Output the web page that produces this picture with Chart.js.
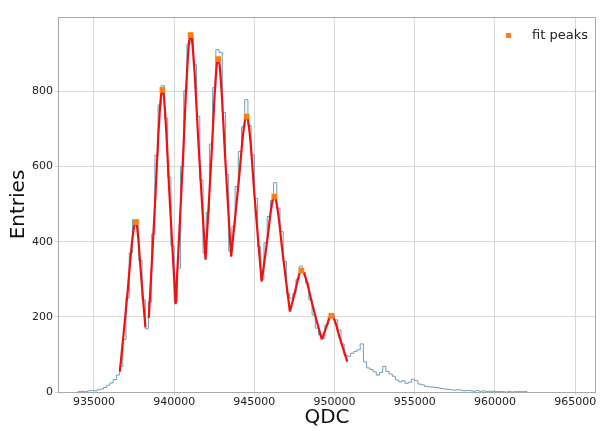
<!DOCTYPE html>
<html>
<head>
<meta charset="utf-8">
<script src="https://cdn.jsdelivr.net/npm/chart.js@4.4.1/dist/chart.umd.min.js"></script>
<style>
  html, body { margin: 0; padding: 0; background: #fff; }
  canvas { display: block; }
</style>
</head>
<body>
<canvas id="chart" width="600" height="431"></canvas>
<script>
// histogram: bins of 200 starting at 934000
const binStart = 934000;
const binWidth = 200;
const counts = [
  1, 2, 1, 3, 4, 3, 6, 8, 12, 18,
  24, 33, 45, 68, 140, 250, 370, 458, 458, 350,
  245, 168, 240, 420, 630, 764, 815, 728, 572, 389,
  240, 330, 600, 802, 926, 945, 871, 734, 564, 370,
  478, 660, 810, 911, 904, 744, 579, 375, 440, 547,
  640, 706, 778, 709, 631, 515, 387, 300, 397, 467,
  510, 557, 489, 427, 347, 261, 250, 262, 300, 335,
  318, 290, 245, 205, 170, 152, 142, 178, 200, 205,
  192, 165, 128, 98, 95, 103, 108, 112, 128, 80,
  64, 60, 54, 45, 52, 68, 55, 48, 42, 32,
  27, 30, 23, 26, 34, 30, 21, 19, 15, 14,
  13, 12, 11, 9, 8, 7, 6, 5, 6, 5,
  3, 4, 3, 2, 4, 2, 3, 1, 2, 2,
  1, 1, 1, 0, 1, 0, 1, 1, 1, 1
];

// fit curve, one segment per peak (null = break)
const fitX = [
  936615, 936864, 937113, 937312, 937411, 937511, 937610, 937670, 937730, 937790, 937911, 938061, 938211, 938300,
  938420, 938632, 938844, 939013, 939098, 939182, 939267, 939350, 939432, 939515, 939680, 939887, 940093, 940093,
  940093, 940326, 940559, 940745, 940839, 940932, 941025, 941118, 941211, 941305, 941491, 941724, 941957, 941957,
  941957, 942154, 942351, 942509, 942587, 942666, 942745, 942826, 942907, 942987, 943149, 943351, 943553, 943553,
  943553, 943795, 944038, 944231, 944328, 944425, 944522, 944615, 944708, 944802, 944988, 945221, 945454, 945454,
  945454, 945651, 945848, 946006, 946084, 946163, 946242, 946340, 946437, 946535, 946730, 946973, 947217, 947217,
  947217, 947397, 947578, 947722, 947794, 947866, 947938, 948065, 948191, 948318, 948572, 948888, 949205, 949205,
  949205, 949354, 949503, 949622, 949682, 949741, 949801, 949900, 949999, 950099, 950298, 950547, 950795
];
const fitY = [
  54, 161, 273, 372, 412, 442, 452, 445, 424, 396, 326, 248, 172, null,
  197, 361, 531, 683, 743, 789, 804, 790, 747, 690, 548, 388, 234, null,
  234, 427, 628, 807, 878, 932, 950, 935, 890, 830, 681, 513, 352, null,
  352, 496, 646, 779, 833, 873, 886, 873, 833, 781, 649, 502, 360, null,
  360, 461, 565, 658, 696, 724, 733, 722, 689, 645, 535, 413, 294, null,
  294, 355, 418, 475, 497, 514, 520, 512, 489, 459, 382, 297, 214, null,
  214, 243, 274, 301, 312, 320, 323, 318, 305, 286, 241, 189, 140, null,
  140, 157, 175, 190, 197, 201, 203, 200, 191, 179, 148, 114, 81
];

const peakX = [937610, 939267, 941025, 942745, 944522, 946242, 947938, 949801];
const peakY = [452, 804, 950, 886, 733, 520, 323, 203];

const xTicks = [935000, 940000, 945000, 950000, 955000, 960000, 965000];
const yTicks = [0, 200, 400, 600, 800];

// build step points from bin edges
const histPoints = [{ x: binStart, y: 0 }];
counts.forEach((c, i) => histPoints.push({ x: binStart + i * binWidth, y: c }));
const binEnd = binStart + counts.length * binWidth;
histPoints.push({ x: binEnd, y: 0 });

const fitPoints = fitX.map((x, i) => ({ x: x, y: fitY[i] }));
const peakPoints = peakX.map((x, i) => ({ x: x, y: peakY[i] }));

const frame = {
  id: 'frame',
  afterDraw(chart) {
    const a = chart.chartArea;
    const ctx = chart.ctx;
    ctx.save();
    ctx.strokeStyle = '#a8a8a8';
    ctx.lineWidth = 1;
    ctx.strokeRect(Math.round(a.left) + 0.5, Math.round(a.top) + 0.5,
      Math.round(a.right - a.left) - 1, Math.round(a.bottom - a.top));
    // legend, drawn inside the plot like the original
    ctx.fillStyle = '#ff7f0e';
    ctx.fillRect(506, 33, 5, 5);
    ctx.fillStyle = '#222';
    ctx.font = '13px "DejaVu Sans"';
    ctx.textBaseline = 'middle';
    ctx.fillText('fit peaks', 532, 36);
    ctx.restore();
  }
};

const tickFont = { family: 'DejaVu Sans', size: 11 };

new Chart(document.getElementById('chart'), {
  type: 'line',
  data: {
    datasets: [
      {
        label: 'fit peaks',
        data: peakPoints,
        showLine: false,
        pointStyle: 'rect',
        pointRadius: 4,
        pointBackgroundColor: '#ff7f0e',
        pointBorderWidth: 0,
        order: 0
      },
      {
        label: 'fit',
        data: fitPoints,
        borderColor: '#ee1111',
        borderWidth: 2.2,
        pointRadius: 0,
        cubicInterpolationMode: 'monotone',
        spanGaps: false,
        order: 1
      },
      {
        label: 'data',
        data: histPoints,
        stepped: 'before',
        borderColor: '#6a9fb8',
        borderWidth: 1,
        pointRadius: 0,
        order: 2
      }
    ]
  },
  options: {
    responsive: false,
    animation: false,
    devicePixelRatio: 1,
    layout: { padding: { top: 17, right: 2, left: 0, bottom: 0 } },
    plugins: {
      legend: { display: false },
      tooltip: { enabled: false }
    },
    scales: {
      x: {
        type: 'linear',
        min: 932760,
        max: 966300,
        afterBuildTicks: axis => { axis.ticks = xTicks.map(v => ({ value: v })); },
        afterFit: axis => { axis.height = 39; },
        grid: { color: '#d9d9d9', tickLength: 3 },
        border: { display: false },
        ticks: { color: '#222', font: tickFont, padding: 1, maxRotation: 0, callback: v => String(v) },
        title: { display: true, text: 'QDC', color: '#111', font: { family: 'DejaVu Sans', size: 20 }, padding: { top: 0, bottom: 1 } }
      },
      y: {
        min: 0,
        max: 998,
        afterBuildTicks: axis => { axis.ticks = yTicks.map(v => ({ value: v })); },
        afterFit: axis => { axis.width = 58; },
        grid: { color: '#d9d9d9', tickLength: 3 },
        border: { display: false },
        ticks: { color: '#222', font: tickFont, padding: 2 },
        title: { display: true, text: 'Entries', color: '#111', font: { family: 'DejaVu Sans', size: 20 }, padding: { top: 7, bottom: 0 } }
      }
    }
  },
  plugins: [frame]
});
</script>
</body>
</html>
